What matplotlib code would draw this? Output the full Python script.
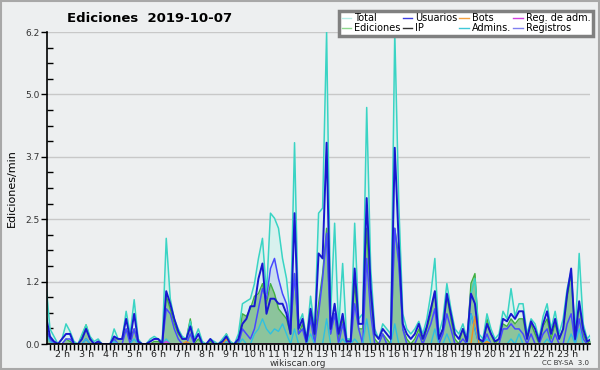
import numpy as np
import matplotlib
matplotlib.use("Agg")
import matplotlib.pyplot as plt
from matplotlib.lines import Line2D
from matplotlib.ticker import MultipleLocator, FixedLocator

# 10-minute samples from 1h20 to 24h00
start_hour = 1 + 20 / 60
step_hours = 1 / 6

total = [
    1.2, 0.3, 0.15, 0.0, 0.1, 0.4, 0.25, 0.05, 0.0, 0.2, 0.38, 0.15,
    0.05, 0.1, 0.0, 0.0, 0.0, 0.3, 0.1, 0.1, 0.65, 0.2, 0.88, 0.1,
    0.0, 0.0, 0.1, 0.15, 0.1, 0.05, 2.1, 0.9, 0.5, 0.3, 0.15, 0.1,
    0.45, 0.1, 0.3, 0.05, 0.0, 0.1, 0.05, 0.0, 0.1, 0.2, 0.05, 0.0,
    0.2, 0.8, 0.85, 0.9, 1.2, 1.7, 2.1, 1.0, 2.6, 2.5, 2.3, 1.7,
    1.3, 0.5, 4.0, 0.4, 0.6, 0.1, 0.95, 0.3, 2.6, 2.7, 6.2, 0.6,
    2.4, 0.3, 1.6, 0.1, 0.1, 2.4, 0.5, 0.6, 4.7, 1.5, 0.3, 0.1,
    0.4, 0.3, 0.2, 6.2, 2.8, 0.6, 0.3, 0.2, 0.3, 0.45, 0.2, 0.5,
    1.0, 1.7, 0.2, 0.5, 1.2, 0.7, 0.3, 0.2, 0.4, 0.1, 1.0, 1.3,
    0.2, 0.1, 0.6, 0.3, 0.1, 0.2, 0.65, 0.5, 1.1, 0.55, 0.8, 0.8,
    0.2, 0.5, 0.4, 0.1, 0.55, 0.8, 0.3, 0.65, 0.2, 0.5, 1.1, 1.45,
    0.2, 1.8, 0.4, 0.1, 0.2,
]
usuarios = [
    0.55, 0.15, 0.05, 0.0, 0.1, 0.2, 0.2, 0.0, 0.0, 0.1, 0.3, 0.1,
    0.0, 0.05, 0.0, 0.0, 0.0, 0.15, 0.1, 0.1, 0.5, 0.1, 0.6, 0.05,
    0.0, 0.0, 0.05, 0.1, 0.1, 0.0, 1.05, 0.8, 0.5, 0.25, 0.1, 0.1,
    0.35, 0.05, 0.2, 0.0, 0.0, 0.1, 0.0, 0.0, 0.05, 0.15, 0.0, 0.0,
    0.1, 0.4, 0.5, 0.75, 0.75, 1.3, 1.6, 0.6, 0.9, 0.9, 0.8, 0.8,
    0.6, 0.2, 2.6, 0.3, 0.5, 0.05, 0.7, 0.2, 1.8, 1.7, 4.0, 0.3,
    0.8, 0.2, 0.6, 0.05, 0.05, 1.5, 0.4, 0.4, 2.9, 1.1, 0.2, 0.1,
    0.3, 0.2, 0.1, 3.9, 2.0, 0.4, 0.2, 0.1, 0.2, 0.4, 0.1, 0.35,
    0.7, 1.05, 0.1, 0.3, 1.0, 0.6, 0.2, 0.1, 0.3, 0.05, 1.0, 0.8,
    0.1, 0.05, 0.4, 0.2, 0.05, 0.1, 0.5, 0.45, 0.6, 0.5, 0.65, 0.65,
    0.1, 0.45, 0.3, 0.05, 0.4, 0.65, 0.2, 0.5, 0.1, 0.3, 1.0, 1.5,
    0.1, 0.85, 0.3, 0.05, 0.1,
]
ediciones = [
    0.3, 0.1, 0.05, 0.0, 0.0, 0.1, 0.05, 0.0, 0.0, 0.15, 0.38, 0.1,
    0.0, 0.05, 0.0, 0.0, 0.0, 0.1, 0.1, 0.1, 0.3, 0.1, 0.3, 0.0,
    0.0, 0.0, 0.0, 0.05, 0.05, 0.0, 0.95, 0.7, 0.4, 0.2, 0.1, 0.1,
    0.5, 0.0, 0.1, 0.0, 0.0, 0.05, 0.0, 0.0, 0.0, 0.2, 0.0, 0.0,
    0.05, 0.6, 0.55, 0.7, 0.95, 1.0, 1.2, 0.8, 1.2, 1.0, 0.7, 0.6,
    0.5, 0.2, 1.4, 0.2, 0.4, 0.0, 0.6, 0.1, 0.8, 1.4, 2.3, 0.2,
    0.6, 0.1, 0.5, 0.05, 0.1, 1.2, 0.3, 0.3, 2.3, 0.9, 0.1, 0.0,
    0.2, 0.1, 0.0, 2.3, 1.7, 0.3, 0.1, 0.0, 0.1, 0.3, 0.0, 0.3,
    0.6, 1.05, 0.1, 0.3, 0.95, 0.5, 0.1, 0.0, 0.3, 0.0, 1.2, 1.4,
    0.1, 0.0, 0.5, 0.2, 0.0, 0.1, 0.4, 0.35, 0.5, 0.4, 0.5, 0.5,
    0.1, 0.4, 0.2, 0.0, 0.35, 0.5, 0.1, 0.4, 0.1, 0.3, 0.9, 1.4,
    0.1, 0.8, 0.2, 0.0, 0.1,
]
ip = [
    0.3, 0.1, 0.0, 0.0, 0.0, 0.1, 0.1, 0.0, 0.0, 0.0, 0.1, 0.0,
    0.0, 0.0, 0.0, 0.0, 0.0, 0.1, 0.0, 0.0, 0.3, 0.0, 0.3, 0.0,
    0.0, 0.0, 0.0, 0.0, 0.0, 0.0, 0.7, 0.6, 0.3, 0.1, 0.0, 0.0,
    0.2, 0.0, 0.0, 0.0, 0.0, 0.0, 0.0, 0.0, 0.0, 0.0, 0.0, 0.0,
    0.0, 0.3, 0.2, 0.1, 0.3, 0.7, 1.1, 0.9, 1.5, 1.7, 1.3, 1.0,
    0.8, 0.3, 1.4, 0.2, 0.3, 0.0, 0.5, 0.0, 0.6, 1.3, 2.2, 0.2,
    0.6, 0.0, 0.4, 0.0, 0.0, 0.8, 0.3, 0.0, 1.7, 0.6, 0.0, 0.0,
    0.2, 0.0, 0.0, 2.3, 1.6, 0.3, 0.0, 0.0, 0.0, 0.2, 0.0, 0.2,
    0.4, 0.7, 0.0, 0.2, 0.6, 0.3, 0.0, 0.0, 0.1, 0.0, 0.6, 0.3,
    0.0, 0.0, 0.2, 0.0, 0.0, 0.0, 0.3, 0.3, 0.4, 0.3, 0.3, 0.2,
    0.0, 0.2, 0.0, 0.0, 0.2, 0.3, 0.0, 0.2, 0.0, 0.0, 0.4, 0.6,
    0.0, 0.5, 0.1, 0.0, 0.0,
]
admins = [
    0.2, 0.05, 0.0, 0.0, 0.0, 0.0, 0.0, 0.0, 0.0, 0.0, 0.1, 0.0,
    0.0, 0.0, 0.0, 0.0, 0.0, 0.05, 0.0, 0.0, 0.0, 0.0, 0.1, 0.0,
    0.0, 0.0, 0.0, 0.0, 0.0, 0.0, 0.1, 0.0, 0.0, 0.0, 0.0, 0.0,
    0.0, 0.0, 0.0, 0.0, 0.0, 0.0, 0.0, 0.0, 0.0, 0.05, 0.0, 0.0,
    0.0, 0.1, 0.0, 0.0, 0.2, 0.3, 0.5, 0.3, 0.2, 0.3, 0.25, 0.4,
    0.2, 0.0, 0.3, 0.0, 0.0, 0.0, 0.2, 0.0, 0.0, 0.0, 0.5, 0.0,
    0.0, 0.0, 0.1, 0.0, 0.0, 0.1, 0.0, 0.0, 0.5, 0.0, 0.0, 0.0,
    0.0, 0.0, 0.0, 0.4, 0.0, 0.0, 0.0, 0.0, 0.0, 0.0, 0.0, 0.0,
    0.0, 0.3, 0.0, 0.0, 0.2, 0.0, 0.0, 0.0, 0.0, 0.0, 0.6, 0.3,
    0.0, 0.0, 0.1, 0.0, 0.0, 0.0, 0.0, 0.0, 0.1, 0.0, 0.2, 0.0,
    0.0, 0.0, 0.0, 0.0, 0.0, 0.1, 0.0, 0.0, 0.0, 0.0, 0.0, 0.2,
    0.0, 0.3, 0.0, 0.0, 0.0,
]
bots = [0.0] * 137
bots[35] = 0.05
bots[45] = 0.1
bots[107] = 0.55
bots[110] = 0.05
reg_adm = [0.0] * 137
reg_adm[30] = 0.05

series_labels = ["Total", "Ediciones", "Usuarios", "IP",
                 "Bots", "Admins.", "Reg. de adm.", "Registros"]
legend_colors = ["#b4ece6", "#8ed88e", "#3c3ce0", "#303030",
                 "#f4a040", "#40c8d8", "#d040e0", "#8080f0"]
y_max = 6.2
date_label = "2019-10-07"

hours = start_hour + step_hours * np.arange(len(total))

bg = "#edeff0"
fig = plt.figure(figsize=(6, 3.7), dpi=100, facecolor=bg)
ax = fig.add_axes([47 / 600, 1 - 344 / 370, 543 / 600, 312 / 370])
ax.set_facecolor(bg)

# layers
ax.fill_between(hours, total, color="#d6f2ee", alpha=0.9, lw=0)
ax.fill_between(hours, ip, color="#c6daf0", alpha=0.8, lw=0)
ax.fill_between(hours, ediciones, color="#8cc49c", lw=0)
ax.plot(hours, ediciones, color="#40b040", lw=1)
ax.plot(hours, total, color="#3ad4c4", lw=1.1)
ax.plot(hours, ip, color="#4848ff", lw=1.1)
ax.plot(hours, admins, color="#30c0e0", lw=1)
ax.plot(hours, bots, color="#f09020", lw=1)
ax.plot(hours, reg_adm, color="#d040e0", lw=1)
ax.plot(hours, usuarios, color="#1818d0", lw=1.4)

ax.set_xlim(1.376, 23.95)
ax.set_ylim(0, y_max)

yt = [y_max * k / 5 for k in range(6)]
ax.set_yticks(yt)
ax.set_yticklabels(["%.1f" % v for v in yt], fontsize=6.5, color="#333333")
ax.yaxis.set_minor_locator(MultipleLocator(y_max / 20))
ax.tick_params(axis="y", which="major", direction="out", length=4, width=1, pad=1)
ax.tick_params(axis="y", which="minor", direction="in", length=4, width=1)

hour_ticks = list(range(2, 24))
ax.xaxis.set_major_locator(FixedLocator(hour_ticks))
ax.set_xticklabels(["%d h" % h for h in hour_ticks], fontsize=6.8, color="#222222")
ax.xaxis.set_minor_locator(MultipleLocator(1 / 6))
ax.tick_params(axis="x", which="both", direction="out", length=4, width=1, pad=0.5)

ax.grid(axis="y", color="#c8c8c8", lw=1)
ax.set_axisbelow(True)
for s in ["top", "right"]:
    ax.spines[s].set_visible(False)
ax.spines["left"].set_linewidth(1.2)
ax.spines["bottom"].set_linewidth(1.2)

ax.set_ylabel("Ediciones/min", fontsize=8, labelpad=6)

fig.text(150 / 600, 1 - 18 / 370, "Ediciones  " + date_label, ha="center",
         va="center", fontsize=9.5, fontweight="bold")
fig.text(298 / 600, 1 - 364 / 370, "wikiscan.org", ha="center", va="center",
         fontsize=6.5, color="#333333")
fig.text(589 / 600, 1 - 363 / 370, "CC BY-SA  3.0", ha="right", va="center",
         fontsize=5, color="#333333")

handles = [Line2D([0], [0], color=c, lw=1) for c in legend_colors]
leg = fig.legend(handles, series_labels, ncol=4, loc="upper right",
                 bbox_to_anchor=(593 / 600, 1 - 11 / 370), fontsize=7,
                 handlelength=1.0, handletextpad=0.3, columnspacing=0.2,
                 labelspacing=0.0, borderpad=0.25, borderaxespad=0,
                 fancybox=False, framealpha=1)
leg.get_frame().set_edgecolor("#808080")
leg.get_frame().set_linewidth(2.5)
leg.get_frame().set_facecolor("white")

# grey border around whole picture
fig.patches.append(plt.Rectangle((0.002, 0.003), 0.996, 0.994,
                                 transform=fig.transFigure, fill=False,
                                 edgecolor="#a8a8a8", lw=1.5))

fig.savefig("out.png", dpi=100, facecolor=bg)
